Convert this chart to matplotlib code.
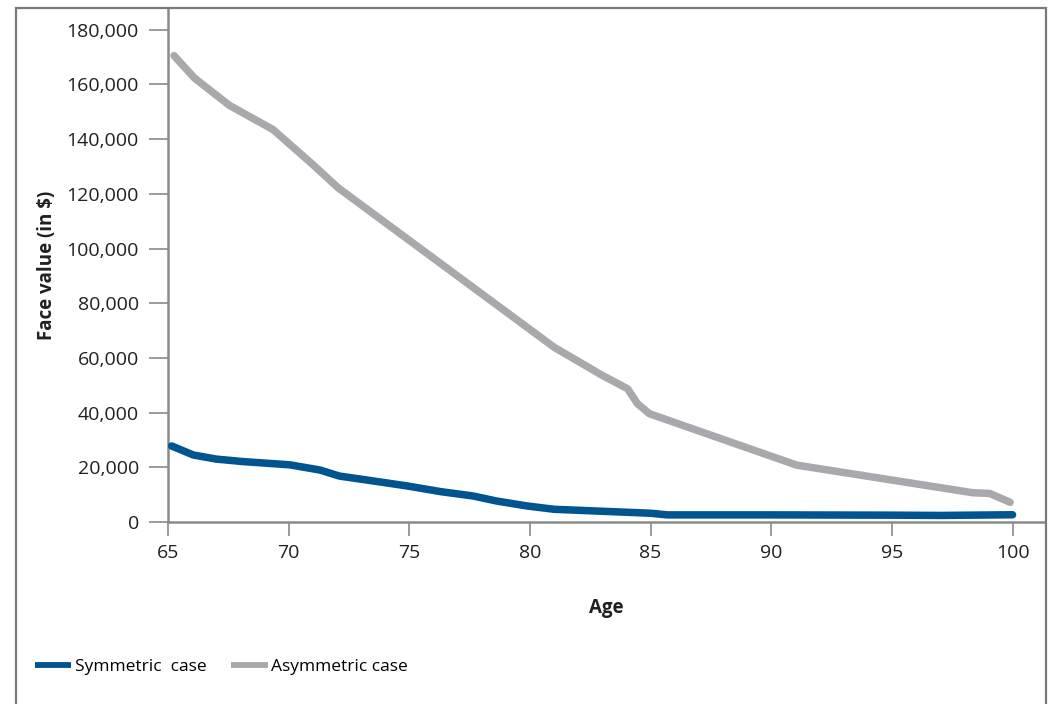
import matplotlib.pyplot as plt
from matplotlib.patches import Rectangle
from matplotlib.ticker import FuncFormatter

plt.rcParams['font.family'] = ['Open Sans', 'DejaVu Sans']

# values
sym_age = [65.15, 66.05, 67.0, 68.1, 70.05, 71.3, 72.1, 73.2, 74.9, 76.3, 77.65,
           78.6, 79.85, 81.0, 85.0, 85.7, 90.0, 95.0, 97.0, 100.0]
sym_val = [27800, 24500, 23000, 22100, 20900, 19000, 16800, 15400, 13200, 11100, 9500,
           7700, 5900, 4650, 3200, 2600, 2600, 2500, 2400, 2650]

asym_age = [65.25, 66.1, 67.55, 69.35, 71.0, 72.05, 81.0, 83.0, 84.05, 84.45, 84.95,
            91.05, 98.35, 99.05, 99.9]
asym_val = [170500, 162300, 152300, 143500, 130700, 122200, 63900, 53600, 48700, 43300, 39600,
            20800, 10700, 10450, 7200]

x_ticks = [65, 70, 75, 80, 85, 90, 95, 100]
y_ticks = [0, 20000, 40000, 60000, 80000, 100000, 120000, 140000, 160000, 180000]

blue = '#00548f'
grey = '#a7a9ad'
axis_grey = '#8a8a8a'

fig = plt.figure(figsize=(10.51, 7.04), dpi=100)
ax = fig.add_axes([168 / 1051, 182 / 704, 877 / 1051, 514 / 704])

ax.plot(sym_age, sym_val, color=blue, lw=5.4, solid_capstyle='round',
        solid_joinstyle='round', label='Symmetric  case', zorder=3)
ax.plot(asym_age, asym_val, color=grey, lw=5.4, solid_capstyle='round',
        solid_joinstyle='round', label='Asymmetric case', zorder=2)

ax.set_xlim(65, 65 + 877 / 24.13)
ax.set_ylim(0, 514 / 0.002735)
ax.set_xticks(x_ticks)
ax.set_yticks(y_ticks)
ax.yaxis.set_major_formatter(FuncFormatter(lambda v, p: f'{int(v):,}'))

for s in ['top', 'right']:
    ax.spines[s].set_visible(False)
for s in ['left', 'bottom']:
    ax.spines[s].set_color(axis_grey)
    ax.spines[s].set_linewidth(1.8)

ax.tick_params(axis='y', length=14, width=1.2, color=axis_grey, pad=7,
               labelsize=14, labelcolor='#231f20')
ax.tick_params(axis='x', length=10, width=1.2, color=axis_grey, pad=6,
               labelsize=14, labelcolor='#231f20')

ax.set_xlabel('Age', fontsize=13.5, fontweight='bold', color='#231f20', labelpad=26)
ax.set_ylabel('Face value (in $)', fontsize=13.5, fontweight='bold', color='#231f20',
              labelpad=7)

leg = fig.legend(loc='center left', bbox_to_anchor=(19 / 1051, 1 - 667 / 704),
                 ncol=2, frameon=False, fontsize=12.5, handlelength=2.1,
                 handletextpad=0.2, columnspacing=1.45)
for line in leg.get_lines():
    line.set_linewidth(4.2)
    line.set_solid_capstyle('butt')

fig.patches.append(Rectangle((16 / 1051, -0.05), (1045.5 - 16) / 1051, 1.05 - 8 / 704,
                             transform=fig.transFigure, fill=False,
                             edgecolor='#7a7a7a', lw=1.6))

fig.savefig('out.png', dpi=100)
